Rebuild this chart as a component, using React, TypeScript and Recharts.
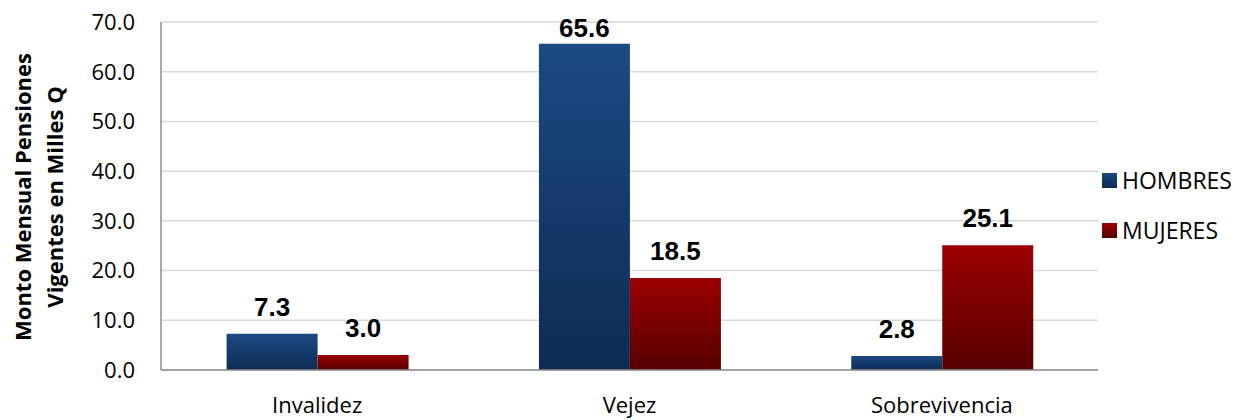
import React from 'react';
import { BarChart, Bar, XAxis, YAxis, CartesianGrid, Legend, LabelList } from 'recharts';

const categories = ['Invalidez', 'Vejez', 'Sobrevivencia'];
const hombres = [7.3, 65.6, 2.8];
const mujeres = [3.0, 18.5, 25.1];
const yTicks = [0, 10, 20, 30, 40, 50, 60, 70];
const seriesNames = ['HOMBRES', 'MUJERES'];
const yLabelLines = ['Monto Mensual Pensiones', 'Vigentes en Milles Q'];

const data = categories.map((c, i) => ({ name: c, hombres: hombres[i], mujeres: mujeres[i] }));

const FONT = '"Open Sans", sans-serif';
const PLOT_TOP = 22;

const LegendContent = (props: any) => {
  const payload = props.payload || [];
  return (
    <div style={{ fontFamily: FONT, fontSize: 23, color: '#000' }}>
      {payload.map((p: any, i: number) => (
        <div key={i} style={{ display: 'flex', alignItems: 'center', height: 30, marginBottom: 20 }}>
          <svg width={15} height={15} style={{ display: 'block' }}>
            <rect x={0} y={0} width={15} height={15} fill={i === 0 ? 'url(#gradH)' : 'url(#gradM)'} />
          </svg>
          <span style={{ marginLeft: 5, lineHeight: '30px' }}>{p.value}</span>
        </div>
      ))}
    </div>
  );
};

const YLabel = () => (
  <g>
    <text
      transform="translate(31,197) rotate(-90)"
      textAnchor="middle"
      fontFamily={FONT}
      fontWeight="bold"
      fontSize={22}
      fill="#000"
    >
      {yLabelLines[0]}
    </text>
    <text
      transform="translate(63,197) rotate(-90)"
      textAnchor="middle"
      fontFamily={FONT}
      fontWeight="bold"
      fontSize={22}
      fill="#000"
    >
      {yLabelLines[1]}
    </text>
  </g>
);

const ValueLabel = (props: any) => {
  const { x, y, width, value } = props;
  const baseline = Math.max(Number(y) - 18, PLOT_TOP + 15);
  return (
    <text
      x={Number(x) + Number(width) / 2}
      y={baseline}
      textAnchor="middle"
      fontFamily='"Liberation Sans", Arial, sans-serif'
      fontWeight="bold"
      fontSize={26}
      fill="#000"
    >
      {Number(value).toFixed(1)}
    </text>
  );
};

export default function App() {
  return (
    <div style={{ position: 'absolute', left: 0, top: 0, width: 1241, height: 420, background: '#fff' }}>
      <BarChart
        width={1241}
        height={420}
        data={data}
        margin={{ top: PLOT_TOP, right: 143, bottom: 0, left: 0 }}
        barCategoryGap="21%"
        barGap={0}
      >
        <defs>
          <linearGradient id="gradH" x1="0" y1="0" x2="0" y2="1">
            <stop offset="0%" stopColor="#1b4a83" />
            <stop offset="100%" stopColor="#0e2b52" />
          </linearGradient>
          <linearGradient id="gradM" x1="0" y1="0" x2="0" y2="1">
            <stop offset="0%" stopColor="#9c0000" />
            <stop offset="100%" stopColor="#560000" />
          </linearGradient>
        </defs>
        <CartesianGrid vertical={false} stroke="#d9d9d9" strokeWidth={1.5} />
        <XAxis
          dataKey="name"
          height={50}
          tickLine={false}
          tickSize={0}
          tickMargin={27}
          axisLine={{ stroke: '#8c8c8c', strokeWidth: 1.5 }}
          tick={{ fontFamily: FONT, fontSize: 22, fill: '#000' }}
          interval={0}
        />
        <YAxis
          width={161}
          domain={[0, 70]}
          ticks={yTicks}
          tickLine={false}
          tickSize={0}
          tickMargin={26}
          tickFormatter={(v: number) => v.toFixed(1)}
          axisLine={{ stroke: '#8c8c8c', strokeWidth: 1.5 }}
          tick={{ fontFamily: FONT, fontSize: 22, fill: '#000' }}
          label={{ content: () => <YLabel /> }}
        />
        <Legend
          layout="vertical"
          align="center"
          verticalAlign="middle"
          content={LegendContent}
          wrapperStyle={{ position: 'absolute', left: 1102, top: 165, width: 139 }}
        />
        <Bar dataKey="hombres" name={seriesNames[0]} fill="url(#gradH)" isAnimationActive={false}>
          <LabelList dataKey="hombres" content={ValueLabel} />
        </Bar>
        <Bar dataKey="mujeres" name={seriesNames[1]} fill="url(#gradM)" isAnimationActive={false}>
          <LabelList dataKey="mujeres" content={ValueLabel} />
        </Bar>
      </BarChart>
    </div>
  );
}
